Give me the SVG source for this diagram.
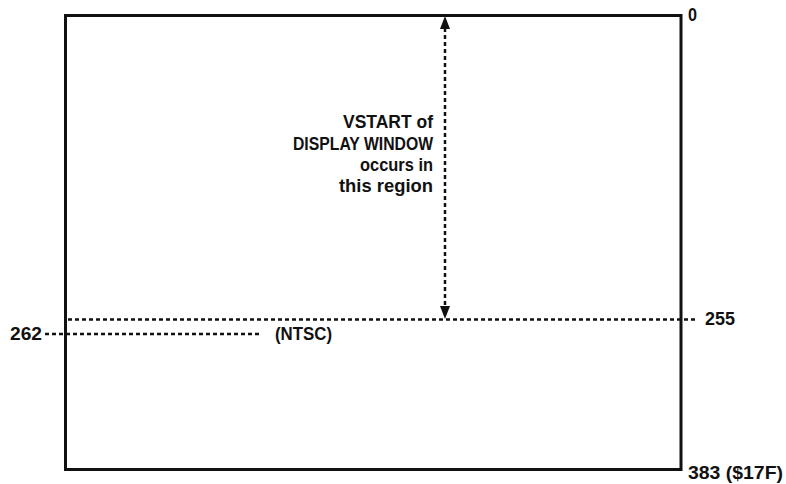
<svg xmlns="http://www.w3.org/2000/svg" width="786" height="484" viewBox="0 0 786 484">
<style>
.t{font-family:"Liberation Sans",Arial,sans-serif;font-size:18px;font-weight:bold;fill:#111}
.d{stroke:#111;stroke-width:2.5;fill:none;stroke-dasharray:4 3}
</style>
<rect width="786" height="484" fill="#fff"/>
<g id="frame">
<rect x="65.5" y="15.5" width="615.5" height="454" fill="none" stroke="#111" stroke-width="3"/>
</g>
<g id="connectors">
<line class="d" x1="68" y1="319.5" x2="697" y2="319.5"/>
<line class="d" x1="45" y1="334" x2="262" y2="334"/>
<line class="d" x1="445" y1="28" x2="445" y2="307" stroke-dasharray="5 3"/>
<path d="M440,29 L445,16 L450,29 Z" fill="#111"/>
<path d="M440,306 L445,319 L450,306 Z" fill="#111"/>
</g>
<g id="label-region">
<text class="t" text-anchor="end" x="433" y="128" textLength="90" lengthAdjust="spacingAndGlyphs">VSTART of</text>
<text class="t" text-anchor="end" x="433" y="150" textLength="140" lengthAdjust="spacingAndGlyphs">DISPLAY WINDOW</text>
<text class="t" text-anchor="end" x="433" y="171" textLength="73" lengthAdjust="spacingAndGlyphs">occurs in</text>
<text class="t" text-anchor="end" x="433" y="192" textLength="94" lengthAdjust="spacingAndGlyphs">this region</text>
</g>
<g id="labels-axis">
<text class="t" x="688" y="21" textLength="9" lengthAdjust="spacingAndGlyphs">0</text>
<text class="t" x="705" y="325" textLength="30" lengthAdjust="spacingAndGlyphs">255</text>
<text class="t" x="10" y="340" textLength="32" lengthAdjust="spacingAndGlyphs">262</text>
<text class="t" x="275" y="340" textLength="57" lengthAdjust="spacingAndGlyphs">(NTSC)</text>
<text class="t" x="688" y="479" textLength="95" lengthAdjust="spacingAndGlyphs">383 ($17F)</text>
</g>
</svg>
